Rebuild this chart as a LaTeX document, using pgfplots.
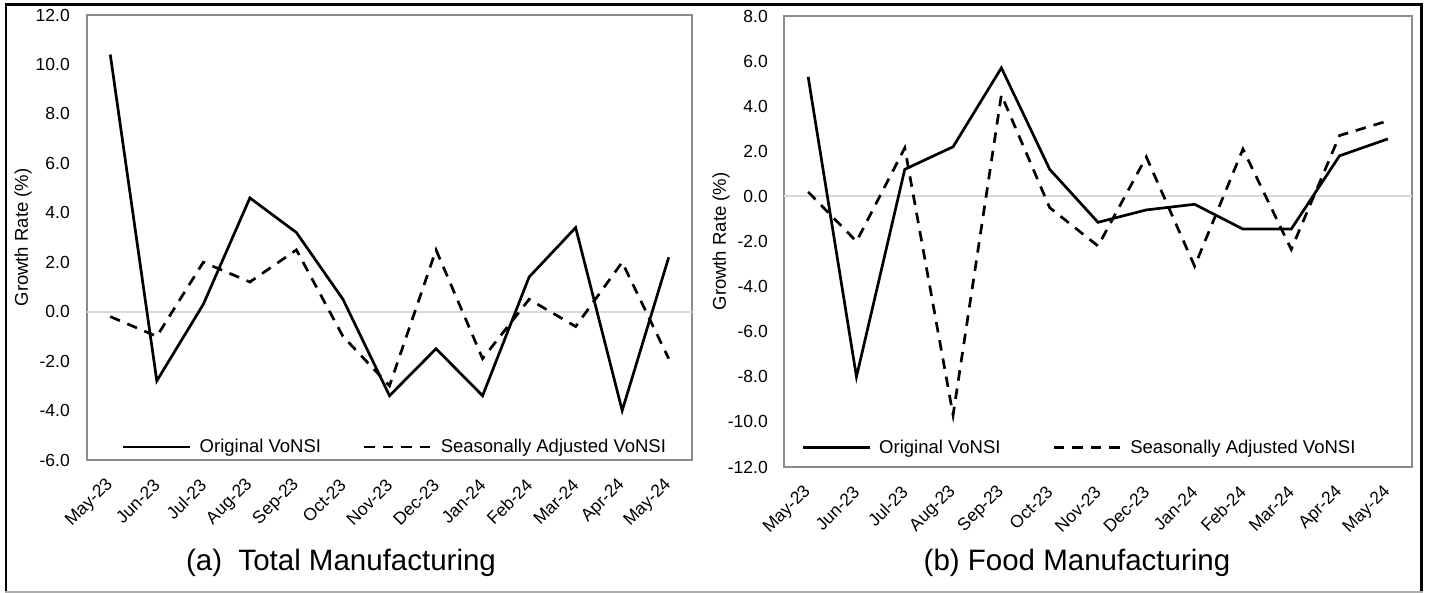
\documentclass[border=0pt]{standalone}
\usepackage{fontspec}
\setmainfont{Liberation Sans}
\usepackage{pgfplots}
\pgfplotsset{compat=1.18}
\definecolor{axgray}{HTML}{8C8C8C}
\definecolor{zgray}{HTML}{D9D9D9}

\pgfplotstableread{
x orig sa
0 10.4 -0.2
1 -2.8 -1.0
2 0.3 2.0
3 4.6 1.2
4 3.2 2.5
5 0.5 -1.0
6 -3.4 -3.0
7 -1.5 2.5
8 -3.4 -1.9
9 1.4 0.5
10 3.4 -0.6
11 -4.0 2.0
12 2.2 -1.9
}\totaltab

\pgfplotstableread{
x orig sa
0 5.3 0.2
1 -8.0 -2.0
2 1.2 2.15
3 2.2 -9.7
4 5.7 4.5
5 1.2 -0.5
6 -1.15 -2.2
7 -0.6 1.75
8 -0.35 -3.1
9 -1.45 2.1
10 -1.45 -2.35
11 1.8 2.7
12 2.55 3.35
}\foodtab

\pgfplotsset{
 panel/.style={
  scale only axis, anchor=south west,
  xmin=-0.5, xmax=12.5,
  xtick={0,...,12},
  xticklabels={May-23,Jun-23,Jul-23,Aug-23,Sep-23,Oct-23,Nov-23,Dec-23,Jan-24,Feb-24,Mar-24,Apr-24,May-24},
  major tick length=0pt,
  axis line style={draw=axgray, line width=2pt},
  tick label style={font=\fontsize{17.5}{17.5}\selectfont, text=black},
  xticklabel style={rotate=45, anchor=east, inner sep=0pt},
  yticklabel style={anchor=east, inner sep=0pt},
  xticklabel shift=22pt,
  ylabel={Growth Rate (\%)},
  ylabel style={font=\fontsize{18.5}{18.5}\selectfont, anchor=center},
  legend columns=2,
  legend style={draw=none, fill=none, inner sep=0pt, outer sep=0pt, anchor=west,
    font=\fontsize{18.5}{18.5}\selectfont, nodes={inner sep=0pt}, column sep=8pt},
  legend image code/.code={\draw[##1] (0pt,0pt) -- (67pt,0pt);},
 },
 dat/.style={line width=2.7pt, black, solid},
 sadash/.style={line width=2.7pt, black, dash pattern=on 10.5pt off 8pt},
}

\begin{document}
\begin{tikzpicture}
\path[use as bounding box] (0,0) rectangle (1429pt,593pt);

\begin{axis}[panel,
  at={(87pt,133pt)}, width=605pt, height=445pt,
  ymin=-6, ymax=12,
  ytick={-6,-4,...,12},
  yticklabels={-6.0,-4.0,-2.0,0.0,2.0,4.0,6.0,8.0,10.0,12.0},
  yticklabel shift=17pt,
  ylabel style={at={(axis description cs:-0.1058,0.5)}},
  legend style={at={(axis description cs:0.0579,0.0292)},
    /tikz/every even column/.append style={column sep=42pt}},
]
\addplot[zgray, line width=2pt, forget plot] coordinates {(-0.5,0) (12.5,0)};
\addplot[dat] table[x=x, y=orig] {\totaltab};
\addlegendentry{Original VoNSI}
\addplot[sadash] table[x=x, y=sa] {\totaltab};
\addlegendentry{Seasonally Adjusted VoNSI}
\end{axis}

\begin{axis}[panel,
  at={(784pt,126pt)}, width=628pt, height=451pt,
  ymin=-12, ymax=8,
  ytick={-12,-10,...,8},
  yticklabels={-12.0,-10.0,-8.0,-6.0,-4.0,-2.0,0.0,2.0,4.0,6.0,8.0},
  yticklabel shift=16pt,
  ylabel style={at={(axis description cs:-0.1003,0.5)}},
  legend style={at={(axis description cs:0.0279,0.0437)},
    /tikz/every even column/.append style={column sep=52pt}},
]
\addplot[zgray, line width=2pt, forget plot] coordinates {(-0.5,0) (12.5,0)};
\addplot[dat] table[x=x, y=orig] {\foodtab};
\addlegendentry{Original VoNSI}
\addplot[sadash] table[x=x, y=sa] {\foodtab};
\addlegendentry{Seasonally Adjusted VoNSI}
\end{axis}

\node[anchor=base, inner sep=0pt, font=\fontsize{29.5}{29.5}\selectfont] at (341pt,22pt) {(a)\ \ Total Manufacturing};
\node[anchor=base, inner sep=0pt, font=\fontsize{29.5}{29.5}\selectfont] at (1077pt,22pt) {(b) Food Manufacturing};

\draw[black, line width=3pt] (4.5pt,588.5pt) -- (1423pt,588.5pt);
\draw[black, line width=2.5pt] (6pt,590pt) -- (6pt,1pt);
\draw[black, line width=2.5pt] (1421.5pt,590pt) -- (1421.5pt,1pt);
\draw[axgray!70, line width=1.5pt] (5pt,0.75pt) -- (1423pt,0.75pt);
\end{tikzpicture}
\end{document}
